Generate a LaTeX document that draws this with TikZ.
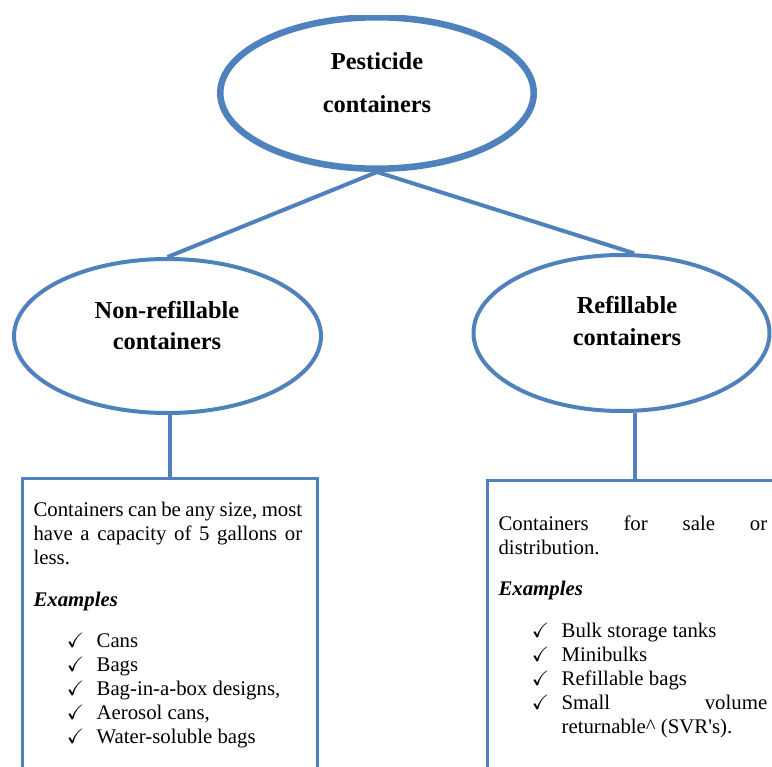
\documentclass[tikz,border=0pt]{standalone}
\usepackage{fontspec}
\setmainfont{Liberation Serif}
\usepackage{amssymb}
\usetikzlibrary{shapes.geometric}
\definecolor{obl}{HTML}{4F81BD}
\newcommand\ckm{\leavevmode\llap{\makebox[22.3pt][l]{$\checkmark$}}}
\tikzset{
  oval/.style={ellipse, draw=obl, inner sep=0pt},
  link/.style={draw=obl, line width=3pt},
  textbox/.style={draw=obl, line width=2.25pt, rectangle, inner sep=0pt, anchor=north west,
    minimum width=221.25pt, minimum height=243pt},
  title/.style={font=\fontsize{18.3pt}{23pt}\selectfont\bfseries, inner sep=0pt, anchor=base},
  body/.style={inner sep=0pt, anchor=base west},
}
\begin{document}
\begin{tikzpicture}[x=0.75pt,y=-0.75pt]
\useasboundingbox (0,0) rectangle (772,767);
\begin{scope}
\clip (0,16) rectangle (772,767);
% ovals
\node[oval, line width=4.9pt, minimum width=235.1pt, minimum height=113.6pt] (top) at (377,93) {};
\node[oval, line width=3pt, minimum width=230.25pt, minimum height=115.5pt] (nonref) at (167.5,336) {};
\node[oval, line width=3pt, minimum width=222pt, minimum height=117pt] (ref) at (621.5,333) {};
% boxes
\node[textbox] (lbox) at (20.5,476.5) {};
\node[textbox] (rbox) at (485.5,478.5) {};
% connectors
\draw[link] (top.south) -- (nonref.north);
\draw[link] (top.south) -- (ref.81);
\draw[link] (nonref.south -| lbox.north) -- (lbox.north);
\draw[link] (ref.south -| rbox.north) -- (rbox.north);
% titles
\node[title] (t1a) at (377,70) {Pesticide};
\node[title] (t1b) at (377,113) {containers};
\node[title] (t2a) at (167,318.3) {Non-refillable};
\node[title] (t2b) at (167,349) {containers};
\node[title] (t3a) at (627,313.3) {Refillable};
\node[title] (t3b) at (627,345.7) {containers};
% body texts
\node[body] (ltext) at (33.3,516.5) {\parbox[t]{201.5pt}{%
  \fontsize{15.6pt}{18pt}\selectfont\tolerance=10000\hbadness=10000
  Containers can be any size, most\linebreak have a capacity of 5 gallons or\linebreak less.\par
  \vspace{13.2pt}
  \textbf{\textit{Examples}}\par
  \vspace{13.2pt}
  {\leftskip=47.3pt
  \ckm Cans\par
  \ckm Bags\par
  \ckm Bag-in-a-box designs,\par
  \ckm Aerosol cans,\par
  \ckm Water-soluble bags\par}}};
\node[body] (rtext) at (498.3,530) {\parbox[t]{201.5pt}{%
  \fontsize{15.6pt}{18pt}\selectfont\tolerance=10000\hbadness=10000
  Containers for sale or\linebreak distribution.\par
  \vspace{13.2pt}
  \textbf{\textit{Examples}}\par
  \vspace{13.2pt}
  {\leftskip=47.3pt
  \ckm Bulk storage tanks\par
  \ckm Minibulks\par
  \ckm Refillable bags\par
  \ckm Small volume\linebreak returnable\textasciicircum{} (SVR\textquotesingle s).\par}}};
\end{scope}
\end{tikzpicture}
\end{document}
